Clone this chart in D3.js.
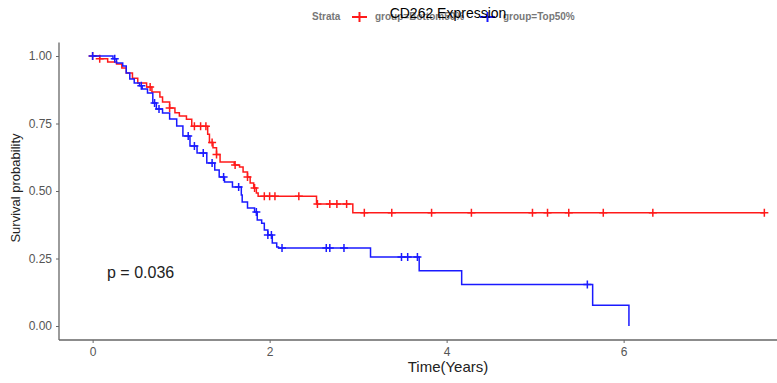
<!DOCTYPE html>
<html>
<head>
<meta charset="utf-8">
<script src="https://cdn.jsdelivr.net/npm/d3@7"></script>
<style>
  body { margin: 0; background: #fff; }
  svg { display: block; font-family: "Liberation Sans", Arial, sans-serif; }
</style>
</head>
<body>
<svg id="chart" width="777" height="383"></svg>
<script>
// Kaplan-Meier steps: time of each drop, survival after it
const redTimes = [0.08,0.17,0.27,0.33,0.38,0.45,0.51,0.61,0.67,0.76,0.79,0.87,0.93,0.98,1.06,1.12,1.30,1.32,1.36,1.40,1.44,1.60,1.66,1.70,1.75,1.78,1.82,1.85,1.87,2.53,2.94]
const redSurv = [0.99,0.978,0.97,0.956,0.937,0.918,0.90,0.885,0.867,0.848,0.83,0.807,0.79,0.778,0.766,0.74,0.71,0.68,0.66,0.635,0.607,0.596,0.589,0.570,0.552,0.530,0.511,0.493,0.481,0.452,0.419]
const redCensor = [0.0,0.08,0.65,0.87,1.15,1.22,1.28,1.35,1.40,1.61,1.75,1.83,1.94,2.0,2.06,2.33,2.54,2.68,2.76,2.87,3.07,3.38,3.83,4.28,4.97,5.14,5.38,5.77,6.33,7.59]

const blueTimes = [0.23,0.27,0.34,0.38,0.42,0.47,0.53,0.56,0.62,0.68,0.72,0.79,0.87,0.95,1.02,1.10,1.18,1.29,1.38,1.43,1.49,1.58,1.68,1.69,1.75,1.83,1.86,1.91,1.94,1.98,2.03,2.08,2.10,3.14,3.69,4.17,5.65,6.06]
const blueSurv = [0.99,0.974,0.963,0.937,0.915,0.90,0.89,0.878,0.863,0.826,0.804,0.789,0.767,0.741,0.704,0.667,0.641,0.604,0.578,0.552,0.533,0.515,0.485,0.459,0.437,0.422,0.393,0.381,0.356,0.337,0.307,0.293,0.289,0.256,0.205,0.154,0.077,0.0]
const blueCensor = [0.0,0.25,0.55,0.70,0.75,1.08,1.15,1.25,1.35,1.48,1.65,1.85,1.98,2.02,2.14,2.64,2.68,2.84,3.49,3.56,3.67,5.59]

const xTicks = [0, 2, 4, 6]
const yTicks = [0, 0.25, 0.5, 0.75, 1]
const pValue = "p = 0.036"

const groups = [
    { name: "group=Bottom50%", color: "#ff1a1a", times: redTimes, surv: redSurv, censor: redCensor, end: 7.59 },
    { name: "group=Top50%", color: "#1a1aff", times: blueTimes, surv: blueSurv, censor: blueCensor, end: 6.06 }
]

const svg = d3.select("#chart")

const x = d3.scaleLinear().domain([-0.38, 7.6]).range([59, 59 + 7.98 * 88.5])
const y = d3.scaleLinear().domain([-0.05, 1.05]).range([339.5, 42.5])

// survival value at time t (step function)
function survAt(g, t) {
    let i = d3.bisectRight(g.times, t)
    return i == 0 ? 1 : g.surv[i - 1]
}

// axes
const xAxis = svg.append("g")
    .attr("transform", "translate(0,340)")
    .call(d3.axisBottom(x).tickValues(xTicks).tickFormat(d3.format("d")).tickSize(3).tickPadding(4))
xAxis.select(".domain").attr("d", "M59,0H777").attr("stroke", "#666").attr("stroke-width", 1.3)

const yAxis = svg.append("g")
    .attr("transform", "translate(59,0)")
    .call(d3.axisLeft(y).tickValues(yTicks).tickFormat(d3.format(".2f")).tickSize(3).tickPadding(4))
yAxis.select(".domain").attr("d", "M0,42.5V340").attr("stroke", "#666").attr("stroke-width", 1.3)

svg.selectAll(".tick line").attr("stroke", "#666")
svg.selectAll(".tick text").attr("fill", "#555").attr("font-size", "12px")

// curves
groups.forEach(function (g) {
    let pts = [[0, 1]]
    g.times.forEach(function (t, i) {
        pts.push([t, pts[pts.length - 1][1]])
        pts.push([t, g.surv[i]])
    })
    if (g.end > g.times[g.times.length - 1]) pts.push([g.end, g.surv[g.surv.length - 1]])
    svg.append("path")
        .datum(pts)
        .attr("fill", "none")
        .attr("stroke", g.color)
        .attr("stroke-width", 1.5)
        .attr("d", d3.line().x(d => x(d[0])).y(d => y(d[1])))
    svg.append("g")
        .selectAll("path")
        .data(g.censor)
        .join("path")
        .attr("d", function (t) {
            let cx = x(t), cy = y(survAt(g, t))
            return "M" + (cx - 4) + "," + cy + "H" + (cx + 4) + "M" + cx + "," + (cy - 4) + "V" + (cy + 4)
        })
        .attr("stroke", g.color)
        .attr("stroke-width", 1.5)
})

// p value
svg.append("text")
    .attr("x", 107).attr("y", 278)
    .attr("font-size", "16px").attr("fill", "#222")
    .text(pValue)

// axis titles
svg.append("text")
    .attr("x", 448).attr("y", 372)
    .attr("text-anchor", "middle")
    .attr("font-size", "15px").attr("fill", "#222")
    .text("Time(Years)")
svg.append("text")
    .attr("transform", "translate(20,188) rotate(-90)")
    .attr("text-anchor", "middle")
    .attr("font-size", "13px").attr("fill", "#222")
    .text("Survival probability")

// legend
const legend = svg.append("g").attr("font-size", "10px").attr("font-weight", "bold").attr("fill", "#777")
legend.append("text").attr("x", 312).attr("y", 20).text("Strata")
const legX = [352, 480]
groups.forEach(function (g, i) {
    let lx = legX[i]
    legend.append("path")
        .attr("d", "M" + lx + ",17H" + (lx + 15) + "M" + (lx + 7.5) + ",12V22")
        .attr("stroke", g.color).attr("stroke-width", 2)
    legend.append("text").attr("x", lx + 23).attr("y", 20).text(g.name)
})

// title (drawn over the legend as in the original)
svg.append("text")
    .attr("x", 448).attr("y", 18)
    .attr("text-anchor", "middle")
    .attr("font-size", "14px").attr("fill", "#000")
    .text("CD262 Expression")
</script>
</body>
</html>
